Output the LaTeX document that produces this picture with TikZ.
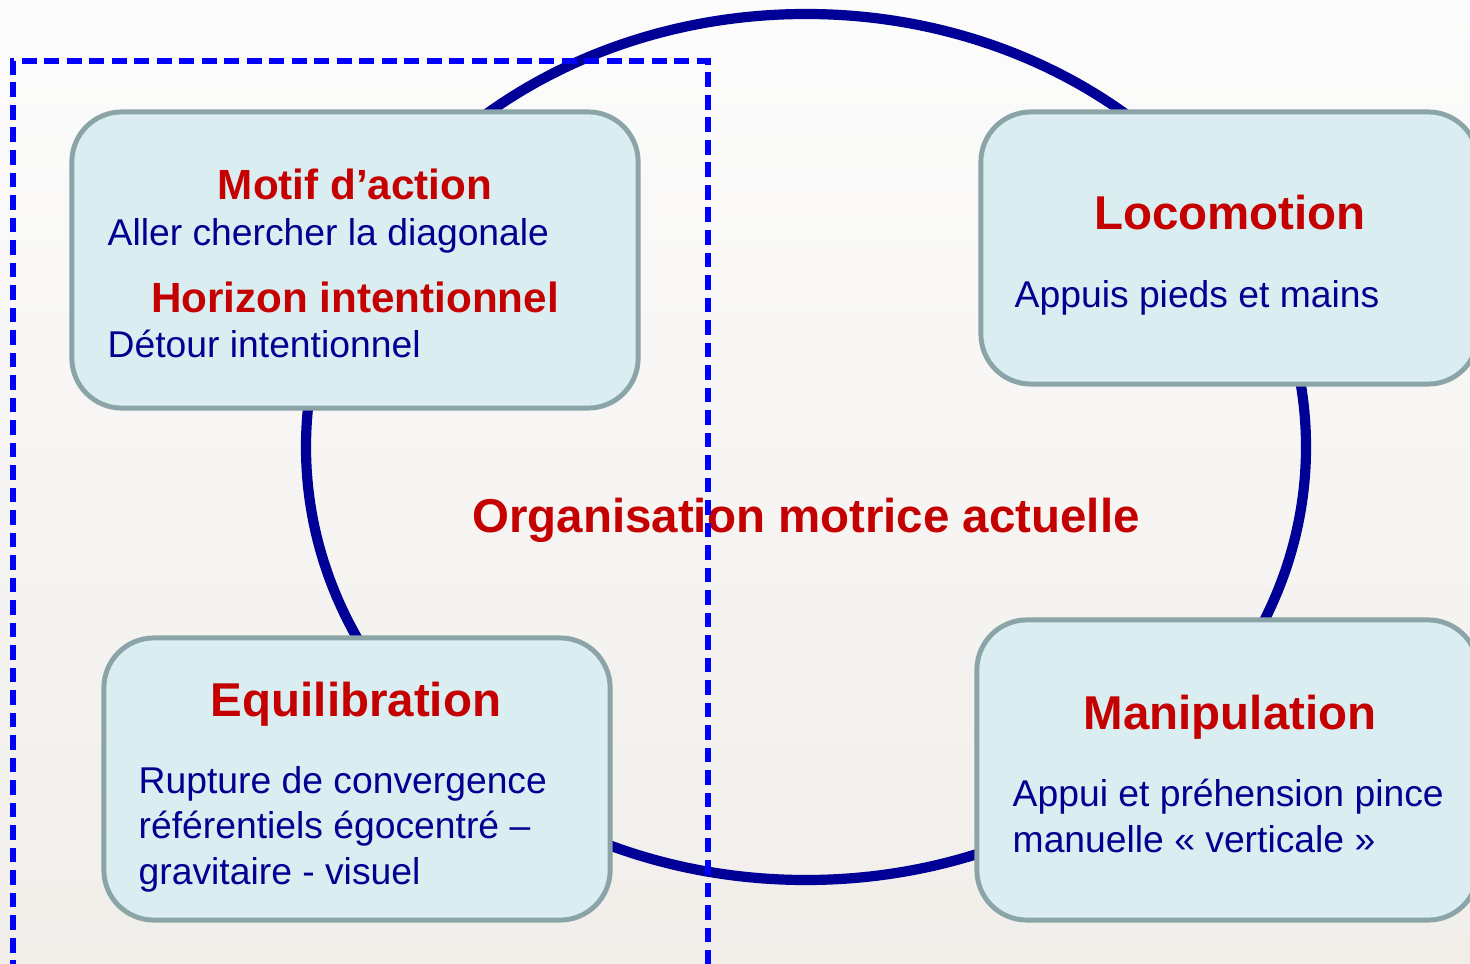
\documentclass[tikz,border=0pt]{standalone}
\usepackage{fontspec}
\setmainfont{Liberation Sans}
\usetikzlibrary{positioning}

\definecolor{ringblue}{RGB}{0,0,150}
\definecolor{textblue}{RGB}{0,0,145}
\definecolor{titlered}{RGB}{196,0,0}
\definecolor{boxfill}{RGB}{218,237,240}
\definecolor{boxline}{RGB}{138,164,167}
\definecolor{dashblue}{RGB}{0,0,255}
\definecolor{bgtop}{RGB}{252,252,252}
\definecolor{bgbottom}{RGB}{241,238,234}

\begin{document}
\begin{tikzpicture}[x=0.01cm, y=-0.01cm]
\tikzstyle{panel} = [draw=boxline, fill=boxfill, line width=1.4pt, rounded corners=0.5cm, inner sep=0pt]
\tikzstyle{title} = [text=titlered, font=\bfseries\fontsize{13.5}{16}\selectfont, inner sep=0pt]
\tikzstyle{subtitle} = [text=titlered, font=\bfseries\fontsize{12}{14}\selectfont, inner sep=0pt]
\tikzstyle{body} = [text=textblue, font=\fontsize{10.6}{12.8}\selectfont, inner sep=0pt, align=left]
\tikzstyle{dashline} = [draw=dashblue, line width=1.6pt, dash pattern=on 4.2pt off 2.2pt]

\useasboundingbox (0,0) rectangle (1470,964);
\clip (0,0) rectangle (1470,964);
\shade[top color=bgtop, bottom color=bgbottom] (0,0) rectangle (1470,964);

% ring behind the panels
\draw[ringblue, line width=2.9pt] (806,447) ellipse [x radius=500, y radius=433];

% panels
\node[panel, minimum width=5.66cm, minimum height=2.96cm] (motif) at (355,260) {};
\node[panel, minimum width=4.97cm, minimum height=2.72cm] (loco) at (1229.5,248) {};
\node[panel, minimum width=5.06cm, minimum height=2.82cm] (equi) at (357,779) {};
\node[panel, minimum width=5.01cm, minimum height=3.00cm] (manip) at (1227.5,770) {};

% texts
\node[subtitle, anchor=base] (motiftitle) at (355,200) {Motif d’action};
\node[body, anchor=base west] (motiftext) at (107,246) {Aller chercher la diagonale};
\node[subtitle, anchor=base] (horiztitle) at (355,313) {Horizon intentionnel};
\node[body, anchor=base west] (horiztext) at (107,358) {Détour intentionnel};

\node[title, anchor=base] (locotitle) at (1230,230) {Locomotion};
\node[body, anchor=base west] (locotext) at (1014,308) {Appuis pieds et mains};

% multi-line texts: base is the last line
\node[title, anchor=base] (equititle) at (356,716) {Equilibration};
\node[body, anchor=base west] (equitext) at (138,884) {Rupture de convergence\\référentiels égocentré –\\gravitaire - visuel};

\node[title, anchor=base] (maniptitle) at (1230,729) {Manipulation};
\node[body, anchor=base west] (maniptext) at (1012,852) {Appui et préhension pince\\manuelle « verticale »};

\node[title, anchor=base] (centre) at (806,532) {Organisation motrice actuelle};

% dashed frame, open at the bottom
\coordinate (fbl) at (13,975);
\coordinate (ftl) at (13,61);
\coordinate (ftr) at (708,61);
\coordinate (fbr) at (708,975);
\draw[dashline] (fbl) -- (ftl) -- (ftr) -- (fbr);
\end{tikzpicture}
\end{document}
